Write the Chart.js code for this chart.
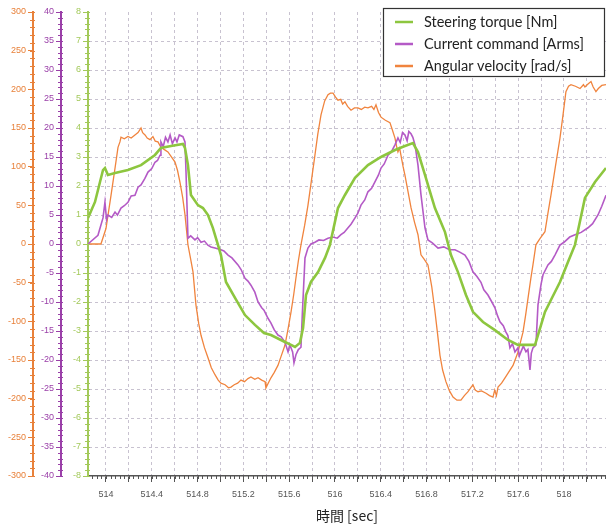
<!DOCTYPE html>
<html>
<head>
<meta charset="utf-8">
<script src="https://cdn.jsdelivr.net/npm/chart.js@4.4.1/dist/chart.umd.min.js"></script>
<style>
  html, body { margin: 0; padding: 0; background: #fff; }
</style>
</head>
<body>
<canvas id="chart" width="606" height="524"></canvas>
<script>
// time [sec] / steering torque [Nm]
const torqueTime = [513.843, 513.904, 513.974, 513.991, 514.017, 514.079, 514.192, 514.306, 514.428, 514.48, 514.568, 514.672, 514.69, 514.716, 514.742, 514.803, 514.847, 514.891, 514.934, 514.978, 515.004, 515.048, 515.127, 515.214, 515.301, 515.38, 515.441, 515.563, 515.616, 515.651, 515.694, 515.721, 515.747, 515.79, 515.852, 515.913, 515.956, 516.026, 516.087, 516.175, 516.288, 516.402, 516.524, 516.611, 516.681, 516.725, 516.786, 516.838, 516.873, 516.961, 517.013, 517.074, 517.144, 517.205, 517.293, 517.397, 517.511, 517.598, 517.747, 517.773, 517.834, 517.886, 517.965, 518.035, 518.096, 518.183, 518.271, 518.367];
const torqueValues = [0.9, 1.45, 2.55, 2.62, 2.38, 2.45, 2.55, 2.72, 3.07, 3.31, 3.38, 3.45, 3.31, 2.72, 1.69, 1.34, 1.24, 1.0, 0.55, -0.03, -0.38, -1.31, -1.86, -2.45, -2.79, -3.07, -3.14, -3.38, -3.48, -3.55, -3.41, -2.9, -1.76, -1.31, -0.97, -0.48, -0.03, 1.24, 1.69, 2.28, 2.72, 3.0, 3.24, 3.38, 3.48, 3.17, 2.38, 1.69, 1.24, 0.41, -0.38, -0.97, -1.76, -2.34, -2.69, -2.97, -3.31, -3.48, -3.48, -3.14, -2.34, -1.93, -1.31, -0.62, -0.03, 1.59, 2.14, 2.62];

// time [sec] / current command [Arms]
const currentTime = [513.843, 513.93, 513.974, 513.991, 514.005, 514.017, 514.05, 514.079, 514.1, 514.131, 514.16, 514.192, 514.22, 514.253, 514.28, 514.306, 514.34, 514.367, 514.4, 514.428, 514.45, 514.472, 514.48, 514.5, 514.52, 514.541, 514.56, 514.58, 514.603, 514.62, 514.64, 514.672, 514.69, 514.699, 514.716, 514.74, 514.777, 514.8, 514.83, 514.86, 514.89, 514.917, 514.952, 515.004, 515.03, 515.066, 515.1, 515.153, 515.18, 515.214, 515.24, 515.266, 515.3, 515.328, 515.36, 515.38, 515.415, 515.44, 515.47, 515.502, 515.53, 515.563, 515.59, 515.605, 515.616, 515.63, 515.642, 515.659, 515.68, 515.703, 515.715, 515.738, 515.764, 515.79, 515.825, 515.86, 515.9, 515.939, 515.98, 516.02, 516.052, 516.08, 516.114, 516.14, 516.175, 516.2, 516.227, 516.26, 516.288, 516.32, 516.349, 516.38, 516.402, 516.43, 516.463, 516.49, 516.524, 516.55, 516.57, 516.59, 516.611, 516.63, 516.645, 516.664, 516.68, 516.699, 516.725, 516.751, 516.786, 516.812, 516.85, 516.9, 516.95, 517.0, 517.048, 517.09, 517.135, 517.17, 517.205, 517.24, 517.275, 517.3, 517.336, 517.37, 517.397, 517.42, 517.441, 517.47, 517.493, 517.51, 517.528, 517.55, 517.572, 517.598, 517.61, 517.624, 517.645, 517.668, 517.685, 517.703, 517.715, 517.729, 517.755, 517.773, 517.8, 517.817, 517.86, 517.89, 517.921, 517.965, 518.0, 518.05, 518.096, 518.15, 518.21, 518.25, 518.297, 518.33, 518.367];
const currentValues = [0, 1.5, 4.5, 7.2, 4.2, 5.0, 4.6, 5.5, 5.0, 6.2, 6.6, 7.2, 8.3, 8.4, 9.8, 10.2, 11.3, 12.4, 13.0, 14.1, 14.4, 15.3, 17.6, 16.8, 18.4, 17.6, 18.8, 17.3, 18.3, 17.6, 18.8, 18.5, 17.6, 12.4, 1.0, 1.4, 0.7, 1.1, 0.3, 0.5, -0.2, -0.5, -0.7, -1.0, -1.2, -1.9, -2.4, -3.6, -4.4, -5.9, -6.4, -7.1, -8.3, -10.0, -11.0, -11.4, -12.8, -13.6, -14.8, -15.7, -16.0, -16.9, -18.6, -17.4, -17.9, -18.6, -20.5, -19.1, -18.2, -17.8, -12, -2.4, -0.7, 0.0, 0.3, 0.7, 0.6, 1.0, 1.2, 1.0, 1.6, 2.0, 2.8, 3.4, 4.5, 5.3, 6.7, 7.6, 9.0, 9.6, 10.7, 11.9, 13.1, 13.8, 15.3, 15.8, 17.1, 18.3, 17.5, 19.2, 18.8, 17.8, 19.4, 19.0, 18.4, 17.1, 13.6, 8.5, 2.8, 0.7, 0.2, -0.7, -0.5, -1.0, -1.0, -1.4, -1.9, -3.0, -4.8, -5.6, -6.6, -7.9, -8.8, -10.0, -11.0, -12.4, -13.4, -14.1, -15.2, -15.8, -17.9, -17.2, -18.6, -17.9, -19.3, -18.6, -17.6, -18.6, -18.2, -21.7, -18.8, -17.9, -17.4, -10.5, -6.9, -5.3, -3.6, -3.0, -1.9, -0.2, 0.3, 1.2, 1.6, 2.0, 2.8, 3.5, 5.0, 6.5, 8.4];

// time [sec] / angular velocity [rad/s]
const velocityTime = [513.843, 513.956, 514.0, 514.044, 514.079, 514.105, 514.122, 514.131, 514.16, 514.192, 514.22, 514.253, 514.28, 514.306, 514.32, 514.341, 514.36, 514.384, 514.41, 514.43, 514.454, 514.48, 514.51, 514.541, 514.57, 514.603, 514.625, 514.646, 514.67, 514.69, 514.716, 514.74, 514.76, 514.786, 514.81, 514.83, 514.86, 514.891, 514.92, 514.952, 514.98, 515.004, 515.04, 515.07, 515.092, 515.12, 515.15, 515.179, 515.21, 515.24, 515.266, 515.3, 515.328, 515.36, 515.389, 515.397, 515.42, 515.441, 515.47, 515.502, 515.53, 515.563, 515.59, 515.616, 515.64, 515.659, 515.68, 515.703, 515.735, 515.764, 515.795, 515.825, 515.85, 515.878, 515.91, 515.939, 515.96, 515.983, 516.005, 516.026, 516.05, 516.067, 516.087, 516.11, 516.14, 516.17, 516.201, 516.23, 516.26, 516.288, 516.32, 516.34, 516.358, 516.38, 516.402, 516.44, 516.48, 516.5, 516.524, 516.54, 516.55, 516.565, 516.576, 516.595, 516.611, 516.64, 516.664, 516.695, 516.725, 516.751, 516.78, 516.812, 516.845, 516.873, 516.895, 516.917, 516.94, 516.969, 517.0, 517.031, 517.065, 517.1, 517.13, 517.162, 517.185, 517.205, 517.225, 517.249, 517.28, 517.319, 517.35, 517.38, 517.395, 517.41, 517.424, 517.455, 517.485, 517.52, 517.555, 517.598, 517.62, 517.642, 517.665, 517.686, 517.71, 517.729, 517.755, 517.79, 517.834, 517.86, 517.886, 517.925, 517.965, 517.99, 518.017, 518.04, 518.061, 518.1, 518.14, 518.17, 518.183, 518.21, 518.236, 518.255, 518.279, 518.3, 518.33, 518.367];
const velocityValues = [0, 0, 20, 63, 98, 125, 132, 138, 136, 139, 137, 141, 144, 150, 144, 141, 137, 135, 139, 133, 132, 125, 122, 119, 113, 106, 95, 80, 60, 38, -1, -20, -36, -79, -103, -118, -134, -147, -160, -169, -176, -180, -182, -186, -185, -182, -180, -176, -178, -174, -172, -175, -173, -176, -178, -186, -179, -173, -166, -157, -145, -131, -110, -88, -65, -44, -22, -1, 24, 50, 83, 115, 142, 167, 185, 193, 195, 195, 190, 186, 187, 181, 184, 178, 173, 176, 176, 174, 177, 176, 178, 174, 180, 170, 164, 160, 157, 148, 137, 125, 119, 124, 115, 100, 89, 66, 47, 28, 12, -14, -20, -27, -55, -87, -115, -144, -163, -178, -190, -198, -202, -202, -196, -191, -186, -182, -189, -191, -190, -193, -196, -198, -189, -196, -185, -180, -173, -165, -157, -140, -127, -114, -92, -70, -45, -27, -1, 7, 16, 40, 63, 100, 137, 165, 197, 204, 206, 204, 201, 206, 203, 207, 210, 203, 197, 201, 205, 206];

// x-axis ticks and their labels
const timeTicks = [514, 514.2, 514.4, 514.6, 514.8, 515, 515.2, 515.4, 515.6, 515.8, 516, 516.2, 516.4, 516.6, 516.8, 517, 517.2, 517.4, 517.6, 517.8, 518, 518.2];
const timeTickLabels = ['514', '', '514.4', '', '514.8', '', '515.2', '', '515.6', '', '516', '', '516.4', '', '516.8', '', '517.2', '', '517.6', '', '518', ''];

const seriesLabels = ['Steering torque [Nm]', 'Current command [Arms]', 'Angular velocity [rad/s]'];

const GREEN = '#8dc63f', PURPLE = '#b45ac6', ORANGE = '#f0843e';
const GREEN_AX = '#a3c95a', PURPLE_AX = '#9a3fa8', ORANGE_AX = '#e8813a';
const GRID = '#c8c2d0';
const tickFont = { family: "'Liberation Sans', Arial, sans-serif", size: 9 };

const toPoints = (xs, ys) => xs.map((t, i) => ({ x: t, y: ys[i] }));

// small ruler ticks between the labelled ones
const minorSteps = { x: 0.04, yTq: 0.2, yCur: 1, yVel: 10 };
const minorTicks = {
  id: 'minorTicks',
  afterDraw(chart) {
    const ctx = chart.ctx;
    ctx.save();
    ctx.lineWidth = 1;
    for (const id in minorSteps) {
      const s = chart.scales[id];
      const step = minorSteps[id];
      const start = Math.ceil(s.min / step - 1e-6);
      const end = Math.floor(s.max / step + 1e-6);
      ctx.strokeStyle = id === 'x' ? '#555' : s.options.border.color;
      ctx.beginPath();
      for (let k = start; k <= end; k++) {
        const p = Math.round(s.getPixelForValue(k * step)) + 0.5;
        if (id === 'x') {
          ctx.moveTo(p, s.top);
          ctx.lineTo(p, s.top + 3);
        } else {
          ctx.moveTo(s.right - 3, p);
          ctx.lineTo(s.right + 2, p);
        }
      }
      ctx.stroke();
    }
    ctx.restore();
  }
};

// boxed legend in the top right corner
const boxLegend = {
  id: 'boxLegend',
  afterDraw(chart) {
    const ctx = chart.ctx;
    const left = 383, top = 8, right = 605, bottom = 77;
    ctx.save();
    ctx.fillStyle = '#fff';
    ctx.fillRect(left, top, right - left, bottom - top);
    ctx.strokeStyle = '#333';
    ctx.lineWidth = 1.2;
    ctx.strokeRect(left + 0.5, top + 0.5, right - left - 1, bottom - top - 1);
    ctx.font = "14.5px Lato, 'Open Sans', sans-serif";
    ctx.textBaseline = 'middle';
    chart.data.datasets.forEach((ds, i) => {
      const y = 22 + i * 22;
      ctx.strokeStyle = ds.borderColor;
      ctx.lineWidth = 2.5;
      ctx.beginPath();
      ctx.moveTo(395, y);
      ctx.lineTo(413, y);
      ctx.stroke();
      ctx.fillStyle = '#222';
      ctx.fillText(ds.label, 424, y);
    });
    ctx.restore();
  }
};

const yAxis = (color, min, max, step, weight, width, extra) => Object.assign({
  type: 'linear',
  position: 'left',
  weight: weight,
  min: min,
  max: max,
  ticks: { stepSize: step, maxTicksLimit: 100, color: color, font: tickFont, padding: 2 },
  grid: { drawOnChartArea: false, tickLength: 5, tickColor: color, color: color, tickBorderDash: [] },
  border: { color: color, width: 2 },
  afterFit: s => { s.width = width; }
}, extra || {});

new Chart(document.getElementById('chart'), {
  type: 'line',
  data: {
    datasets: [
      { label: seriesLabels[0], data: toPoints(torqueTime, torqueValues), yAxisID: 'yTq',
        borderColor: GREEN, borderWidth: 2.6, order: 1 },
      { label: seriesLabels[1], data: toPoints(currentTime, currentValues), yAxisID: 'yCur',
        borderColor: PURPLE, borderWidth: 1.6, order: 2 },
      { label: seriesLabels[2], data: toPoints(velocityTime, velocityValues), yAxisID: 'yVel',
        borderColor: ORANGE, borderWidth: 1.3, order: 3 }
    ]
  },
  options: {
    responsive: false,
    animation: false,
    elements: { point: { radius: 0 }, line: { tension: 0, fill: false } },
    layout: { padding: { top: 12, right: 0, left: 0, bottom: 0 } },
    plugins: { legend: { display: false }, tooltip: { enabled: false } },
    scales: {
      x: {
        type: 'linear',
        min: 513.843,
        max: 518.367,
        afterBuildTicks: s => { s.ticks = timeTicks.map(v => ({ value: v })); },
        ticks: {
          autoSkip: false, maxRotation: 0, color: '#555', font: tickFont, padding: 7,
          callback: (v, i) => timeTickLabels[i]
        },
        grid: { color: GRID, tickColor: '#555', tickLength: 6, tickBorderDash: [] },
        border: { color: '#555', width: 1.5, dash: [3, 3] },
        title: {
          display: true, text: '時間 [sec]', color: '#222',
          font: { family: "'Noto Sans CJK JP', sans-serif", size: 14 },
          padding: { top: 2, bottom: 0 }
        },
        afterFit: s => { s.height = 48; }
      },
      yVel: yAxis(ORANGE_AX, -300, 300, 50, 3, 33),
      yCur: yAxis(PURPLE_AX, -40, 40, 5, 2, 28),
      yTq: yAxis(GREEN_AX, -8, 8, 1, 1, 27, {
        grid: {
          drawOnChartArea: true, tickLength: 5, tickColor: GREEN_AX, tickBorderDash: [],
          color: c => (c.tick && Math.abs(c.tick.value) === 8) ? 'rgba(0,0,0,0)' : GRID
        },
        border: { color: GREEN_AX, width: 2, dash: [3, 3] }
      })
    }
  },
  plugins: [minorTicks, boxLegend]
});
</script>
</body>
</html>
